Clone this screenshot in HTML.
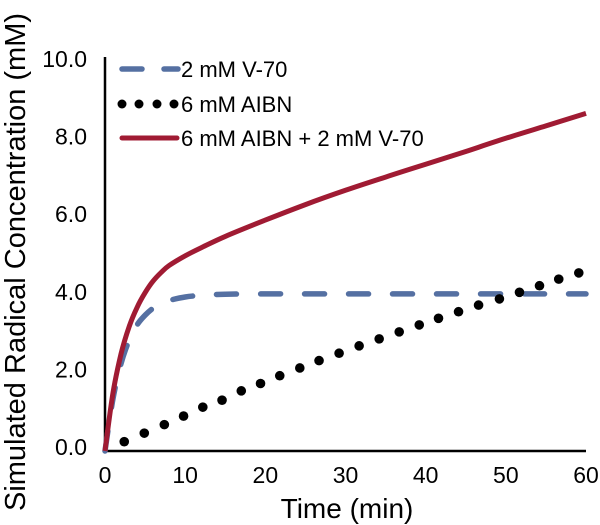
<!DOCTYPE html>
<html><head><meta charset="utf-8"><style>
body{margin:0;background:#fff;}
svg{display:block;font-family:"Liberation Sans",Arial,sans-serif;}
</style></head><body>
<svg id="chart" width="600" height="525" viewBox="0 0 600 525">
<g id="axes"></g>
<g id="series"></g>
<g id="legend"></g>
</svg>
<script>
const xTicks=[0,10,20,30,40,50,60];
const yTicks=[0,2,4,6,8,10];
const yTickLabels=["0.0","2.0","4.0","6.0","8.0","10.0"];
const lineTimes=[0,1,2,3,4,5,6,7,8,10,12,15,20,25,30,35,40,45,50,55,60];
const v70Values=[0,1.35,2.25,2.85,3.25,3.5,3.68,3.8,3.88,3.97,4.01,4.04,4.05,4.05,4.05,4.05,4.05,4.05,4.05,4.05,4.05];
const combinedValues=[0,1.5,2.5,3.2,3.7,4.08,4.38,4.6,4.78,5.03,5.24,5.53,5.95,6.35,6.72,7.06,7.39,7.72,8.06,8.38,8.7];
const aibnTimes=[2.4,4.9,7.4,9.8,12.2,14.6,17.0,19.4,21.8,24.3,26.7,29.2,31.7,34.2,36.7,39.2,41.6,44.1,46.6,49.2,51.7,54.2,56.6,59.1];
const aibnValues=[0.24,0.46,0.68,0.9,1.13,1.31,1.55,1.74,1.94,2.14,2.33,2.52,2.71,2.89,3.07,3.25,3.42,3.59,3.76,3.92,4.09,4.26,4.43,4.59];
const legendLabels=["2 mM V-70","6 mM AIBN","6 mM AIBN + 2 mM V-70"];

const NS="http://www.w3.org/2000/svg";
const X=t=>105+t*(481/60);
const Y=v=>451-v*38.8;
function mk(tag,attrs,parent){const e=document.createElementNS(NS,tag);for(const k in attrs)e.setAttribute(k,attrs[k]);parent.appendChild(e);return e;}
const axes=document.getElementById('axes'),series=document.getElementById('series'),legend=document.getElementById('legend');

let yl=mk('line',{x1:X(0),x2:X(0),y1:57,y2:Y(0)+1,stroke:'#000','stroke-width':2.5},axes);


let xl=mk('line',{x1:X(0),x2:X(60),y1:Y(0),y2:Y(0),stroke:'#000','stroke-width':2.5},axes);


yTicks.forEach((v,i)=>{
  const t=mk('text',{x:87,y:Y(v)+4,'text-anchor':'end','font-size':23,fill:'#000'},axes);
  t.textContent=yTickLabels[i];
  
  
});
xTicks.forEach(v=>{
  const t=mk('text',{x:X(v),y:483,'text-anchor':'middle','font-size':23,fill:'#000'},axes);
  t.textContent=v;
  
  
});
let xt=mk('text',{x:347,y:518,'text-anchor':'middle','font-size':28,fill:'#000'},axes);
xt.textContent='Time (min)';


let yt=mk('text',{x:0,y:0,'text-anchor':'middle','font-size':29,fill:'#000',transform:'translate(25,262) rotate(-90)'},axes);
yt.textContent='Simulated Radical Concentration (mM)';



function pathD(ts,vs){
  const p=ts.map((t,i)=>[X(t),Y(vs[i])]);
  let d='M'+p[0][0].toFixed(1)+','+p[0][1].toFixed(1);
  for(let i=0;i<p.length-1;i++){
    const p0=p[Math.max(i-1,0)],p1=p[i],p2=p[i+1],p3=p[Math.min(i+2,p.length-1)];
    const c1=[p1[0]+(p2[0]-p0[0])/6,p1[1]+(p2[1]-p0[1])/6];
    const c2=[p2[0]-(p3[0]-p1[0])/6,p2[1]-(p3[1]-p1[1])/6];
    d+=' C'+c1.map(n=>n.toFixed(1)).join(',')+' '+c2.map(n=>n.toFixed(1)).join(',')+' '+p2.map(n=>n.toFixed(1)).join(',');
  }
  return d;
}
let pv=mk('path',{d:pathD(lineTimes,v70Values),fill:'none',stroke:'#5570a2','stroke-width':5.5,'stroke-linecap':'round','stroke-dasharray':'20 24'},series);


aibnTimes.forEach((t,i)=>{
  const c=mk('circle',{cx:X(t),cy:Y(aibnValues[i]),r:4.8,fill:'#000'},series);
  
  
});
let pc=mk('path',{d:pathD(lineTimes,combinedValues),fill:'none',stroke:'#a01b33','stroke-width':5,'stroke-linejoin':'round'},series);



const ly=[69,104,138];
let l1=mk('line',{x1:122,x2:178,y1:ly[0],y2:ly[0],stroke:'#5570a2','stroke-width':5.5,'stroke-linecap':'round','stroke-dasharray':'20 22'},legend);


[122,139,157,174].forEach(x=>{
  const c=mk('circle',{cx:x,cy:ly[1],r:4.5,fill:'#000'},legend);
  
  
});
let l3=mk('line',{x1:122,x2:177,y1:ly[2],y2:ly[2],stroke:'#a01b33','stroke-width':5,'stroke-linecap':'round'},legend);


legendLabels.forEach((s,i)=>{
  const t=mk('text',{x:181,y:ly[i]+8,'font-size':22,fill:'#000'},legend);
  t.textContent=s;
  
  
});
</script>
</body></html>
